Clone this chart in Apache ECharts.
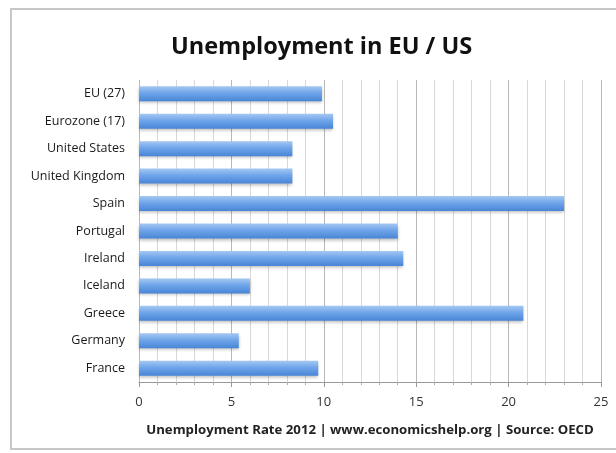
<!DOCTYPE html>
<html>
<head>
<meta charset="utf-8">
<script src="https://cdn.jsdelivr.net/npm/echarts@6/dist/echarts.min.js"></script>
<style>
    html, body { margin: 0; padding: 0; background: #ffffff; }
    #chart { width: 616px; height: 453px; }
</style>
</head>
<body>
<div id="chart"></div>
<script>
/* 数据 */
const countries = ["EU (27)", "Eurozone (17)", "United States", "United Kingdom", "Spain",
    "Portugal", "Ireland", "Iceland", "Greece", "Germany", "France"];

const rates = [9.9, 10.5, 8.3, 8.3, 23.0, 14.0, 14.3, 6.0, 20.8, 5.4, 9.7];

const xTicks = [0, 5, 10, 15, 20, 25];

const fontName = "'Open Sans', 'Noto Sans', sans-serif";

/* 图表 */
const chart = echarts.init(document.getElementById("chart"));

chart.setOption({

    animation: false,

    graphic: [
        {
            type: "rect",
            shape: { x: 11, y: 9, width: 620, height: 440 },
            style: { fill: "none", stroke: "#c8c8c8", lineWidth: 2 }
        }
    ],

    title: {
        text: "Unemployment in EU / US",
        left: 166,
        top: 30,
        textStyle: {
            fontFamily: fontName,
            fontSize: 23.5,
            fontWeight: "bold",
            color: "#111"
        }
    },

    grid: {
        left: 139,
        right: 15,
        top: 80,
        bottom: 71
    },

    xAxis: {
        type: "value",
        min: xTicks[0],
        max: xTicks[xTicks.length - 1],
        interval: 5,
        name: "Unemployment Rate 2012 | www.economicshelp.org | Source: OECD",
        nameLocation: "middle",
        nameGap: 42,
        nameTextStyle: {
            fontFamily: fontName,
            fontSize: 13.2,
            fontWeight: "bold",
            color: "#222"
        },
        axisLine: { show: true, lineStyle: { color: "#999", width: 1 } },
        axisTick: { show: true, length: 5, lineStyle: { color: "#999" } },
        minorTick: { show: true, splitNumber: 5, length: 3, lineStyle: { color: "#aaa" } },
        axisLabel: {
            fontFamily: fontName,
            fontSize: 13,
            color: "#333",
            margin: 14
        },
        splitLine: { show: true, lineStyle: { color: "#b8b8b8", width: 1 } },
        minorSplitLine: { show: true, lineStyle: { color: "#d8d8d8", width: 1 } }
    },

    yAxis: {
        type: "category",
        data: countries,
        inverse: true,
        axisLine: { show: false },
        axisTick: { show: false },
        axisLabel: {
            fontFamily: fontName,
            fontSize: 12.5,
            color: "#1a1a1a",
            margin: 14
        }
    },

    series: [
        {
            type: "bar",
            data: rates,
            barWidth: 15,
            itemStyle: {
                color: new echarts.graphic.LinearGradient(0, 0, 0, 1, [
                    { offset: 0, color: "#a4c8f2" },
                    { offset: 0.45, color: "#6fa5ea" },
                    { offset: 1, color: "#4885d6" }
                ]),
                shadowColor: "rgba(0,0,0,0.25)",
                shadowBlur: 3,
                shadowOffsetY: 2
            }
        }
    ]
});
</script>
</body>
</html>
